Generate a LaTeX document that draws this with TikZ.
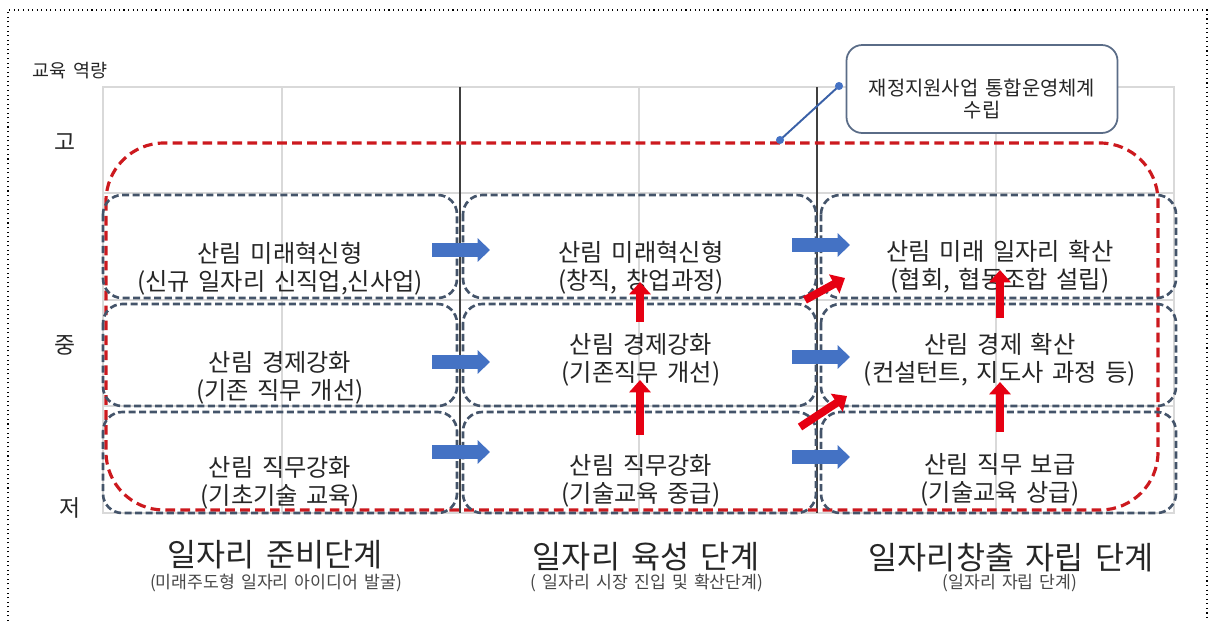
\documentclass[tikz,border=0pt]{standalone}
\usepackage{fontspec}
\setmainfont{Noto Sans CJK KR}[WordSpace=1.6]
\usetikzlibrary{arrows.meta}

\definecolor{gridgray}{RGB}{217,217,217}
\definecolor{boxblue}{RGB}{68,84,106}
\definecolor{dashred}{RGB}{204,25,30}
\definecolor{arrowblue}{RGB}{68,114,196}
\definecolor{arrowred}{RGB}{230,0,18}
\definecolor{calloutgray}{RGB}{90,108,135}
\definecolor{textgray}{RGB}{38,38,38}

\tikzset{
  boxtext/.style={font=\fontsize{13.8}{16}\selectfont, align=center, text=textgray},
  stagetitle/.style={font=\fontsize{18}{20}\selectfont, text=textgray},
  stagesub/.style={font=\fontsize{9.8}{11}\selectfont, text=textgray!85},
  levellabel/.style={font=\fontsize{13}{14}\selectfont, text=textgray},
  gridline/.style={draw=gridgray, line width=0.8pt},
  dashbox/.style={draw=boxblue, line width=1.5pt, dash pattern=on 4pt off 2pt, rounded corners=11pt},
  bluearrow/.style={draw=arrowblue, line width=7.5pt, -{Triangle[width=13pt,length=7pt]}},
  redarrow/.style={draw=arrowred, line width=4.5pt, -{Triangle[width=12pt,length=7pt]}},
}

\begin{document}
\begin{tikzpicture}[x=0.2mm, y=-0.2mm]
    \useasboundingbox (0,0) rectangle (1210,621);
    \draw[dotted, line width=0.6pt] (8,621) -- (8,10) -- (1207,10) -- (1207,621);

    % grid
    \draw[gridline] (103,87) rectangle (1174,513);
    \foreach \x in {282, 639, 996} {
        \draw[gridline] (\x,87) -- (\x,513);
    }
    \foreach \y in {193, 300, 406} {
        \draw[gridline] (103,\y) -- (1174,\y);
    }
    \foreach \x in {460, 817} {
        \draw[black!75, line width=0.8pt] (\x,87) -- (\x,513);
    }

    \draw[dashred, line width=1.8pt, dash pattern=on 5.5pt off 3pt, rounded corners=33pt]
        (106,143) rectangle (1158,510);
    \foreach \xa/\xb in {103/457, 463/816, 821/1176} {
        \foreach \ya/\yb in {195/298, 304/406, 412/513} {
            \draw[dashbox] (\xa,\ya) rectangle (\xb,\yb);
        }
    }

    \node[boxtext] (prep1) at (280,269) {산림 미래혁신형\\(신규 일자리 신직업,신사업)};
    \node[boxtext] (prep2) at (280,378) {산림 경제강화\\(기존 직무 개선)};
    \node[boxtext] (prep3) at (280,483) {산림 직무강화\\(기초기술 교육)};
    \node[boxtext] (grow1) at (641,268) {산림 미래혁신형\\(창직, 창업과정)};
    \node[boxtext] (grow2) at (641,360) {산림 경제강화\\(기존직무 개선)};
    \node[boxtext] (grow3) at (641,481) {산림 직무강화\\(기술교육 중급)};
    \node[boxtext] (self1) at (1000,267) {산림 미래 일자리 확산\\(협회, 협동조합 설립)};
    \node[boxtext] (self2) at (1000,360) {산림 경제 확산\\(컨설턴트, 지도사 과정 등)};
    \node[boxtext] (self3) at (1000,480) {산림 직무 보급\\(기술교육 상급)};

    \foreach \ya/\yb in {250/245, 362/357, 452/457} {
        \draw[bluearrow] (432,\ya) -- (490,\ya);
        \draw[bluearrow] (792,\yb) -- (850,\yb);
    }
    \draw[redarrow] (640,322) -- (640,282);
    \draw[redarrow] (640,435) -- (640,380);
    \draw[redarrow] (1000,318) -- (1000,270);
    \draw[redarrow] (1000,432) -- (1000,382);
    \draw[redarrow] (805,300) -- (845,278);
    \draw[redarrow] (800,427) -- (847,396);

    % callout
    \node[draw=calloutgray, line width=1pt, fill=white, rounded corners=9pt,
        minimum width=5.42cm, minimum height=1.76cm] (plan) at (982,89) {};
    \node[align=center, text=textgray, font=\fontsize{11.3}{12.5}\selectfont] (plantext) at (982,99)
        {재정지원사업 통합운영체계\\수립};
    \coordinate (pin) at (839,86);
    \coordinate (foot) at (780,140);
    \draw[arrowblue!85!black, line width=1.1pt] (foot) -- (pin);
    \fill[arrowblue] (foot) circle (2.3pt) (pin) circle (2.3pt);

    \node[text=textgray, font=\fontsize{10.5}{12}\selectfont] (axis) at (70,71) {교육 역량};
    \node[levellabel] (high) at (65,142) {고};
    \node[levellabel] (mid) at (65,345) {중};
    \node[levellabel] (low) at (70,508) {저};

    \node[stagetitle] (stage1) at (275,555) {일자리 준비단계};
    \node[stagesub] (sub1) at (276,583) {(미래주도형 일자리 아이디어 발굴)};
    \node[stagetitle] (stage2) at (646,557) {일자리 육성 단계};
    \node[stagesub] (sub2) at (647,583) {( 일자리 시장 진입 및 확산단계)};
    \node[stagetitle] (stage3) at (1011,558) {일자리창출 자립 단계};
    \node[stagesub] (sub3) at (1010,583) {(일자리 자립 단계)};
\end{tikzpicture}
\end{document}
